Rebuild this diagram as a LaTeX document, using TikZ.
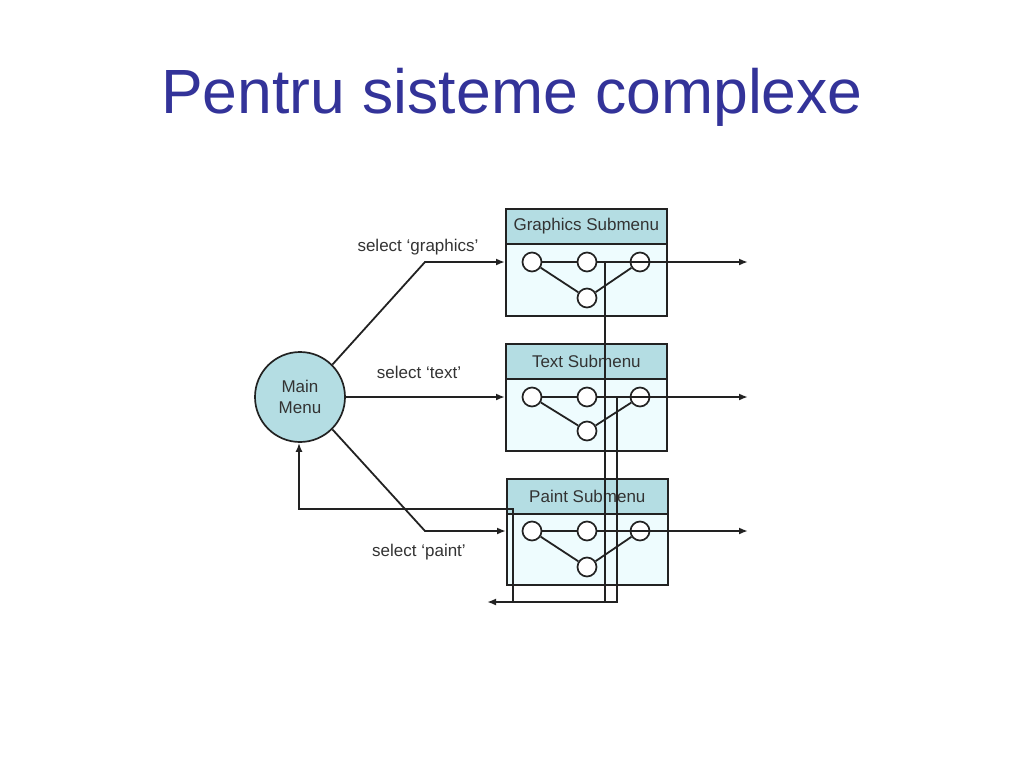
\documentclass[tikz,border=0pt]{standalone}
\usepackage{fontspec}
\setmainfont{Liberation Sans}
\usetikzlibrary{arrows.meta}
\definecolor{titleblue}{HTML}{333399}
\definecolor{hdrfill}{HTML}{B4DDE3}
\definecolor{bodyfill}{HTML}{EEFCFE}
\definecolor{ink}{HTML}{222222}
\definecolor{txt}{HTML}{333333}
\tikzset{
  hdr/.style={draw=ink, line width=1.7pt, fill=hdrfill, minimum width=161pt, minimum height=35pt, anchor=north west, inner sep=0pt, text=txt, font=\fontsize{17}{20}\selectfont},
  bodybox/.style={draw=ink, line width=1.7pt, fill=bodyfill, minimum width=161pt, minimum height=72pt, anchor=north west, inner sep=0pt},
  sc/.style={circle, draw=ink, line width=1.7pt, fill=white, minimum size=19pt, inner sep=0pt},
  wire/.style={draw=ink, line width=1.8pt},
  arr/.style={wire, -{Latex[length=9pt,width=7pt]}},
  lbl/.style={text=txt, font=\fontsize{17}{20}\selectfont, inner sep=0pt},
  mainnode/.style={circle, draw=ink, line width=1.7pt, fill=hdrfill, minimum size=90pt, inner sep=0pt, text=txt, align=center, font=\fontsize{17}{21}\selectfont}
}
\begin{document}
\begin{tikzpicture}[x=1pt,y=-1pt]
\useasboundingbox (0,0) rectangle (1024,768);
\node[text=titleblue, font=\fontsize{62.5}{70}\selectfont, inner sep=0pt] (title) at (512,97) {Pentru sisteme complexe};

% main menu
\node[mainnode] (main) at (300,397) {Main\\Menu};

% submenu boxes
\node[bodybox] (gb) at (505,243) {};
\node[hdr] (gh) at (505,208) {Graphics Submenu};
\node[bodybox] (tb) at (505,378) {};
\node[hdr] (th) at (505,343) {Text Submenu};
\node[bodybox] (pb) at (506,512) {};
\node[hdr] (ph) at (506,478) {Paint Submenu};

% inner nodes
\foreach \p/\y in {g/262, t/397, p/531} {
  \node[sc] (\p1) at (532,\y) {};
  \node[sc] (\p2) at (587,\y) {};
  \node[sc] (\p3) at (640,\y) {};
}
\node[sc] (g4) at (587,298) {};
\node[sc] (t4) at (587,431) {};
\node[sc] (p4) at (587,567) {};
\foreach \p in {g,t,p} {
  \draw[wire] (\p1) -- (\p2);
  \draw[wire] (\p2) -- (\p3);
  \draw[wire] (\p1) -- (\p4);
  \draw[wire] (\p4) -- (\p3);
}

% coordinates
\coordinate (gbend) at (425,262);
\coordinate (pbend) at (425,531);
\coordinate (gin) at (505,262);
\coordinate (tin) at (505,397);
\coordinate (pin) at (506,531);
\coordinate (gv) at (605,262);
\coordinate (tv) at (617,397);
\coordinate (gvb) at (605,602);
\coordinate (tvb) at (617,602);
\coordinate (back) at (487,602);
\coordinate (pv) at (513,602);
\coordinate (pvt) at (513,509);
\coordinate (mret) at (299,509);
\coordinate (gout) at (748,262);
\coordinate (tout) at (748,397);
\coordinate (pout) at (748,531);

% connectors from main menu
\draw[arr] (main.45) -- (gbend) -- (gin);
\draw[arr] (main.east) -- (tin);
\draw[arr] (main.-45) -- (pbend) -- (pin);

% outputs
\draw[arr] (gv) -- (gout);
\draw[arr] (tv) -- (tout);
\draw[arr] (p2) -- (pout);

% return lines
\draw[wire] (gv) -- (gvb);
\draw[arr] (tv) -- (tvb) -- (back);
\draw[arr] (pv) -- (pvt) -- (mret) -- (main.south -| mret);

% labels
\node[lbl] (lg) at (418,247) {select ‘graphics’};
\node[lbl] (lt) at (419,372) {select ‘text’};
\node[lbl] (lp) at (419,552) {select ‘paint’};
\end{tikzpicture}
\end{document}
